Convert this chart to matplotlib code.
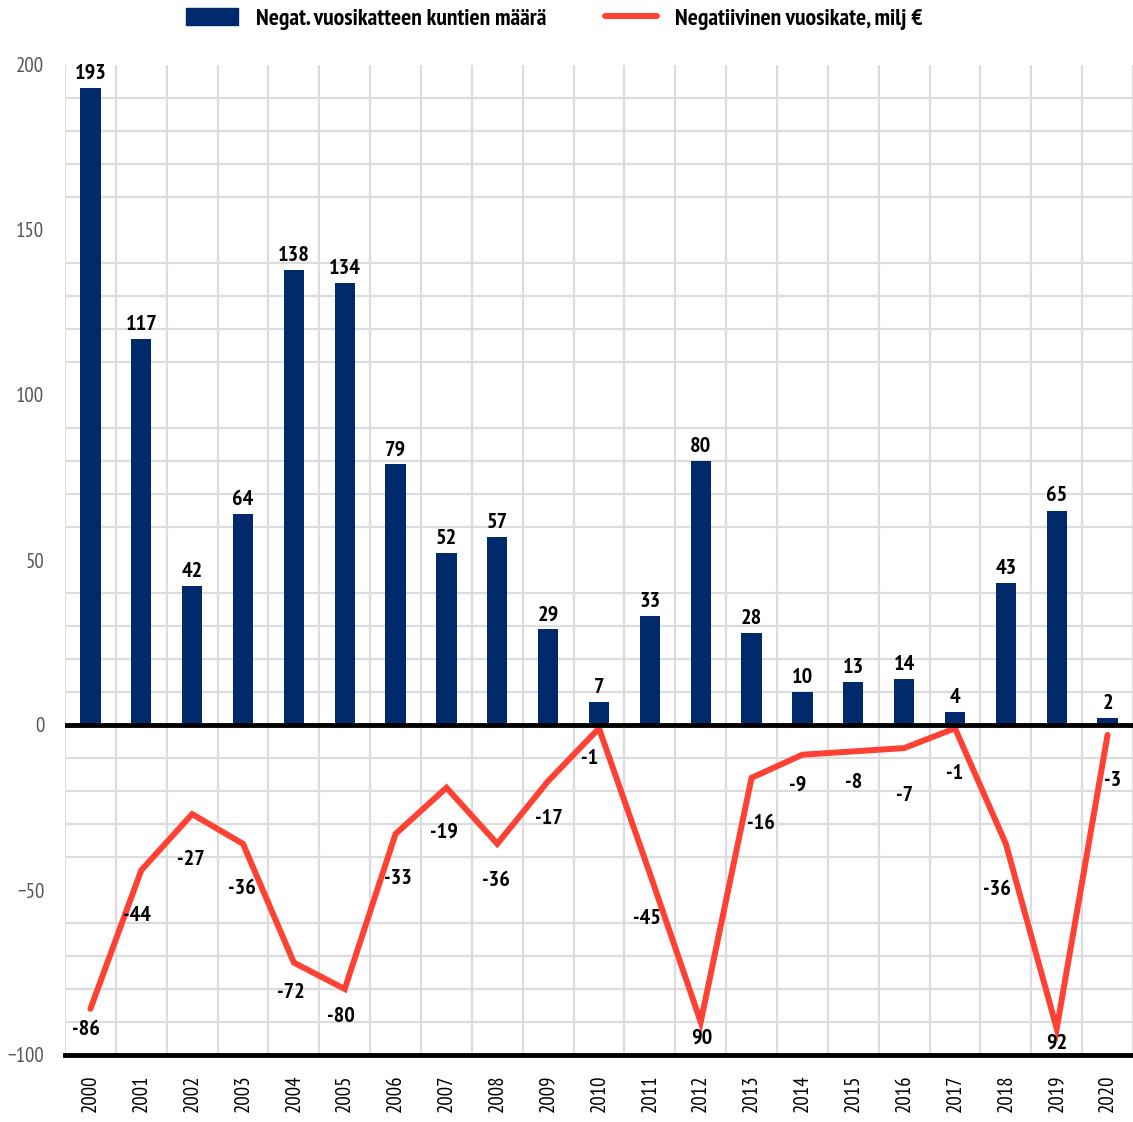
import matplotlib.pyplot as plt
import numpy as np
from matplotlib.lines import Line2D
from matplotlib.patches import Patch

plt.rcParams['font.family'] = ['PT Sans Narrow', 'DejaVu Sans']

years = [str(y) for y in range(2000, 2021)]
kunnat = [193, 117, 42, 64, 138, 134, 79, 52, 57, 29, 7, 33, 80, 28, 10, 13, 14, 4, 43, 65, 2]
vuosikate = [-86, -44, -27, -36, -72, -80, -33, -19, -36, -17, -1, -45, -90, -16, -9, -8, -7, -1, -36, -92, -3]
vk_labels = ['-86', '-44', '-27', '-36', '-72', '-80', '-33', '-19', '-36', '-17', '-1', '-45', '90',
             '-16', '-9', '-8', '-7', '-1', '-36', '92', '-3']
# label offsets (x, y) in pixels from the line point
vk_offsets = [(-4, -21), (-4, -45), (-1, -45), (-1, -45), (-3, -30), (-4, -27), (2, -45), (-2, -45),
              (-1, -37), (1, -37), (-9, -30), (-3, -45), (1, -16), (9, -46), (-5, -31), (0, -31),
              (0, -47), (0, -45), (-9, -46), (0, -15), (5, -46)]

navy = '#002a6c'
red = '#ff4133'

fig = plt.figure(figsize=(11.33, 11.22), dpi=100)
ax = fig.add_axes([65 / 1133, 67 / 1122, 1 - 65 / 1133, 990 / 1122])

x = np.arange(len(years))
ax.bar(x, kunnat, width=0.4, color=navy, zorder=3)
for xi, v in zip(x, kunnat):
    ax.annotate(str(v), (xi, v), xytext=(0, 5), textcoords='offset pixels',
                ha='center', va='bottom', fontsize=16, fontweight='bold', zorder=5)

ax.plot(x, vuosikate, color=red, lw=4.3, solid_capstyle='round', solid_joinstyle='miter', zorder=4)
for xi, v, s, off in zip(x, vuosikate, vk_labels, vk_offsets):
    ax.annotate(s, (xi, v), xytext=off, textcoords='offset pixels',
                ha='center', va='center', fontsize=16, fontweight='bold', zorder=5)

ax.set_xlim(-0.5, len(years) - 0.5)
ax.set_ylim(-100, 200)
ax.set_yticks([-100, -50, 0, 50, 100, 150, 200])
ax.set_yticks(np.arange(-100, 201, 10), minor=True)
ax.set_xticks(x)
ax.set_xticklabels(years, rotation=90, fontsize=15)
ax.set_xticks(np.arange(-0.5, len(years), 1), minor=True)

ax.grid(True, which='minor', color='#dcdcdc', lw=1.6, zorder=0)
ax.grid(False, which='major')
ax.tick_params(axis='both', which='both', length=0)
ax.tick_params(axis='y', pad=15, labelsize=15, labelcolor='#555555')
ax.tick_params(axis='x', pad=14)

for sp in ax.spines.values():
    sp.set_visible(False)
ax.axhline(0, color='black', lw=3.5, zorder=4)
ax.axhline(-100, color='black', lw=3.5, zorder=4, clip_on=False)

handles = [Patch(color=navy), Line2D([0], [0], color=red, lw=4.3, solid_capstyle='round')]
fig.legend(handles, ['Negat. vuosikatteen kuntien määrä', 'Negatiivinen vuosikate, milj €'],
           loc='upper left', bbox_to_anchor=(186 / 1133, 1 - 8 / 1122), ncol=2, frameon=False,
           prop={'size': 17, 'weight': 'bold'}, handlelength=2.2, handletextpad=0.75,
           columnspacing=2.5, borderpad=0, borderaxespad=0)

fig.savefig('out.png', dpi=100)
